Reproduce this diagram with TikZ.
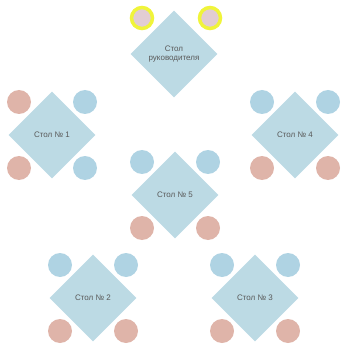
\documentclass[tikz,border=0pt]{standalone}
\usepackage{fontspec}
\setmainfont{Liberation Sans}
\usetikzlibrary{shapes.geometric, calc}

\definecolor{tableblue}{HTML}{BCDAE4}
\definecolor{chairblue}{HTML}{AFD3E3}
\definecolor{chairpink}{HTML}{DFB4A9}
\definecolor{chairgray}{HTML}{E2CDD3}
\definecolor{ringyellow}{HTML}{F0F43A}

\begin{document}
\begin{tikzpicture}[
  x=1pt, y=-1pt,
  desk/.style={diamond, fill=tableblue, minimum width=87pt, minimum height=87pt, inner sep=0pt, align=center, font=\fontsize{8}{9}\selectfont, text=black!65},
  chair/.style={circle, minimum size=24pt, inner sep=0pt},
  chair-blue/.style={chair, fill=chairblue},
  chair-pink/.style={chair, fill=chairpink},
  chair-boss/.style={chair, minimum size=21pt, fill=chairgray, draw=ringyellow, line width=3.5pt}
]
  \useasboundingbox (0,0) rectangle (343,355);
  % table positions
  \coordinate (p0) at (174,54);
  \coordinate (p1) at (52,135);
  \coordinate (p4) at (295,135);
  \coordinate (p5) at (175,195);
  \coordinate (p2) at (93,298);
  \coordinate (p3) at (255,298);

  % chairs
  \node[chair-boss] (p0-nw) at ($(p0)+(-32,-36)$) {};
  \node[chair-boss] (p0-ne) at ($(p0)+(36,-36)$) {};
  \foreach \t/\nw/\ne/\sw/\se in {p1/pink/blue/pink/blue, p4/blue/blue/pink/pink, p5/blue/blue/pink/pink, p2/blue/blue/pink/pink, p3/blue/blue/pink/pink}{
    \node[chair-\nw] (\t-nw) at ($(\t)+(-33,-33)$) {};
    \node[chair-\ne] (\t-ne) at ($(\t)+(33,-33)$) {};
    \node[chair-\sw] (\t-sw) at ($(\t)+(-33,33)$) {};
    \node[chair-\se] (\t-se) at ($(\t)+(33,33)$) {};
  }

  % tables
  \node[desk] (t0) at (p0) {Стол\\руководителя};
  \node[desk] (t1) at (p1) {Стол № 1};
  \node[desk] (t4) at (p4) {Стол № 4};
  \node[desk] (t5) at (p5) {Стол № 5};
  \node[desk] (t2) at (p2) {Стол № 2};
  \node[desk] (t3) at (p3) {Стол № 3};
\end{tikzpicture}
\end{document}
